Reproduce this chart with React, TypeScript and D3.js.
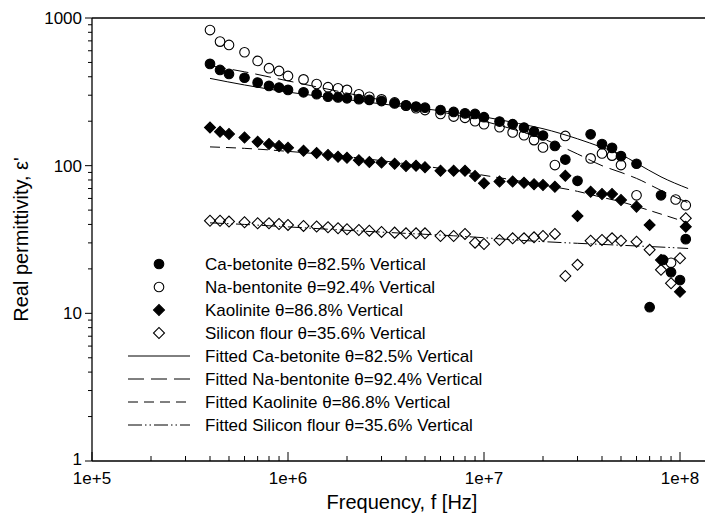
import React, { useEffect, useRef } from 'react';
import * as d3 from 'd3';

const caFreq = [4e5, 4.5e5, 5e5, 6e5, 7e5, 8e5, 9e5, 1e6, 1.2e6, 1.4e6, 1.6e6, 1.8e6, 2e6, 2.3e6, 2.6e6, 3e6, 3.5e6, 4e6, 4.5e6, 5e6, 6e6, 7e6, 8e6, 9e6, 1e7, 1.2e7, 1.4e7, 1.6e7, 1.8e7, 2e7, 2.3e7, 2.6e7, 3e7, 3.5e7, 4e7, 4.5e7, 5e7, 6e7, 7e7, 8e7, 8.2e7, 9e7, 1e8, 1.07e8];
const caVal = [489, 445, 418, 394, 365, 347, 338, 326, 314, 305, 293, 290, 286, 282, 279, 274, 264, 256, 251, 247, 238, 231, 226, 224, 213, 199, 191, 181, 170, 160, 136, 110, 79, 163, 140, 132, 116, 103, 11, 63, 23, 19, 16.8, 31.8];

const naFreq = [4e5, 4.5e5, 5e5, 6e5, 7e5, 8e5, 9e5, 1e6, 1.2e6, 1.4e6, 1.6e6, 1.8e6, 2e6, 2.3e6, 2.6e6, 3e6, 3.5e6, 4e6, 4.5e6, 5e6, 6e6, 7e6, 8e6, 9e6, 1e7, 1.2e7, 1.4e7, 1.6e7, 1.8e7, 2e7, 2.3e7, 2.6e7, 3.5e7, 4e7, 4.5e7, 5e7, 6e7, 9e7, 9.5e7, 1.07e8];
const naVal = [829, 692, 657, 586, 512, 457, 438, 405, 384, 357, 340, 334, 326, 304, 293, 281, 268, 255, 245, 238, 224, 215, 211, 200, 191, 182, 168, 161, 149, 133, 101, 159, 112, 121, 117, 101, 63, 22, 59, 54];

const kaoFreq = [4e5, 4.5e5, 5e5, 6e5, 7e5, 8e5, 9e5, 1e6, 1.2e6, 1.4e6, 1.6e6, 1.8e6, 2e6, 2.3e6, 2.6e6, 3e6, 3.5e6, 4e6, 4.5e6, 5e6, 6e6, 7e6, 8e6, 9e6, 1e7, 1.2e7, 1.4e7, 1.6e7, 1.8e7, 2e7, 2.3e7, 2.6e7, 3e7, 3.5e7, 4e7, 4.5e7, 5e7, 6e7, 7e7, 8e7, 1e8, 1.07e8];
const kaoVal = [181, 170, 164, 155, 145, 140, 136, 132, 126, 122, 118, 115, 113, 109, 106, 105, 103, 99.5, 100, 97.5, 92.5, 92.5, 92.5, 85, 76, 78, 78, 76.7, 74.8, 74, 72, 85.5, 45.6, 66.7, 64.3, 64.3, 58.6, 52.8, 39.7, 23, 14, 38.6];

const siFreq = [4e5, 4.5e5, 5e5, 6e5, 7e5, 8e5, 9e5, 1e6, 1.2e6, 1.4e6, 1.6e6, 1.8e6, 2e6, 2.3e6, 2.6e6, 3e6, 3.5e6, 4e6, 4.5e6, 5e6, 6e6, 7e6, 8e6, 9e6, 1e7, 1.2e7, 1.4e7, 1.6e7, 1.8e7, 2e7, 2.3e7, 2.6e7, 3e7, 3.5e7, 4e7, 4.5e7, 5e7, 6e7, 7e7, 8e7, 9e7, 1e8, 1.07e8];
const siVal = [42.4, 42.4, 41.8, 41.4, 40.7, 40.7, 40.3, 39.7, 39.1, 38.7, 38.3, 37.7, 37.1, 36.7, 36.3, 35.6, 35.2, 34.8, 34.8, 34.8, 33.4, 33.4, 34.5, 30.1, 29.5, 31.4, 32.2, 32.2, 32.7, 33.4, 34.5, 17.9, 21.3, 31.0, 31.4, 32.2, 31.0, 30.5, 26.9, 19.7, 16.0, 23.6, 44];

// fitted curves, sampled from the plot
const fitFreq = [4e5, 6e5, 1e6, 2e6, 4e6, 7e6, 1e7, 1.5e7, 2e7, 3e7, 4e7, 5e7, 6e7, 8e7, 1.1e8];
const fitCa = [390, 352, 315, 280, 250, 230, 214, 193, 178, 152, 133, 119, 104, 84, 70];
const fitNa = [475, 432, 375, 310, 258, 222, 200, 172, 152, 120, 100, 90, 82, 68, 56];
const fitKao = [134, 131, 125, 115, 103, 93, 86, 79, 74, 67, 61, 57, 53, 47, 41];
const fitSi = [41, 40, 38.5, 36.5, 34.8, 33.5, 32.5, 31.3, 30.6, 29.8, 29.3, 28.9, 28.6, 28.1, 27.5];

const xTickLabels = ['1e+5', '1e+6', '1e+7', '1e+8'];
const yTickLabels = ['1', '10', '100', '1000'];

const pointLabels = [
  'Ca-betonite θ=82.5% Vertical',
  'Na-bentonite θ=92.4% Vertical',
  'Kaolinite θ=86.8% Vertical',
  'Silicon flour θ=35.6% Vertical',
];
const fitLabels = [
  'Fitted Ca-betonite θ=82.5% Vertical',
  'Fitted Na-bentonite θ=92.4% Vertical',
  'Fitted Kaolinite θ=86.8% Vertical',
  'Fitted Silicon flour θ=35.6% Vertical',
];

const FONT = '"Liberation Sans", Arial, sans-serif';

const PermittivityChart: React.FC = () => {
  const ref = useRef<SVGSVGElement>(null);

  useEffect(() => {
    if (!ref.current) return;
    const svg = d3.select(ref.current);
    svg.selectAll('*').remove();

    const left = 92, right = 705, top = 18, bottom = 461;
    const x = d3.scaleLog().domain([1e5, 1e8]).range([left, 680]);
    const y = d3.scaleLog().domain([1, 1000]).range([bottom, top]);

    const series = [
      { f: caFreq, v: caVal, shape: 'circle', filled: true },
      { f: naFreq, v: naVal, shape: 'circle', filled: false },
      { f: kaoFreq, v: kaoVal, shape: 'diamond', filled: true },
      { f: siFreq, v: siVal, shape: 'diamond', filled: false },
    ];
    const fits = [
      { v: fitCa, dash: null },
      { v: fitNa, dash: '16,7' },
      { v: fitKao, dash: '10,6' },
      { v: fitSi, dash: '14,3,1.5,3,1.5,3' },
    ];

    // axes frame
    const g = svg.append('g').attr('stroke', '#000').attr('fill', 'none');
    g.append('line').attr('x1', left).attr('x2', left).attr('y1', top).attr('y2', bottom).attr('stroke-width', 1.3);
    g.append('line').attr('x1', left).attr('x2', right).attr('y1', bottom).attr('y2', bottom).attr('stroke-width', 1.3);
    g.append('line').attr('x1', left).attr('x2', right).attr('y1', top).attr('y2', top).attr('stroke-width', 1.3);

    // y ticks (outward)
    y.ticks().forEach(t => {
      const major = Math.abs(Math.log10(t) - Math.round(Math.log10(t))) < 1e-9;
      g.append('line')
        .attr('x1', left - (major ? 7 : 4)).attr('x2', left)
        .attr('y1', y(t)).attr('y2', y(t)).attr('stroke-width', 1);
    });
    yTickLabels.forEach(lbl => {
      svg.append('text')
        .attr('x', left - 10).attr('y', y(+lbl) - (lbl === '1' ? 2 : 0)).attr('dy', '0.35em')
        .attr('text-anchor', 'end').style('font-family', FONT).style('font-size', '17px')
        .text(lbl);
    });

    // x ticks (inward)
    const xt = d3.scaleLog().domain([1e5, 1.3e8]).ticks().filter(t => x(t) <= right);
    xt.forEach(t => {
      const major = Math.abs(Math.log10(t) - Math.round(Math.log10(t))) < 1e-9;
      g.append('line')
        .attr('x1', x(t)).attr('x2', x(t))
        .attr('y1', bottom).attr('y2', bottom - (major ? 9 : 5)).attr('stroke-width', 1);
    });
    xTickLabels.forEach(lbl => {
      svg.append('text')
        .attr('x', x(+lbl)).attr('y', bottom + 23)
        .attr('text-anchor', 'middle').style('font-family', FONT).style('font-size', '17px')
        .text(lbl);
    });

    // axis titles
    svg.append('text')
      .attr('x', 402).attr('y', 509).attr('text-anchor', 'middle')
      .style('font-family', FONT).style('font-size', '20px')
      .text('Frequency, f [Hz]');
    svg.append('text')
      .attr('transform', `translate(28,${(top + bottom) / 2}) rotate(-90)`)
      .attr('text-anchor', 'middle')
      .style('font-family', FONT).style('font-size', '20px')
      .text("Real permittivity, ε'");

    // fitted lines
    const line = d3.line<[number, number]>()
      .x(d => x(d[0])).y(d => y(d[1]))
      .curve(d3.curveMonotoneX);
    fits.forEach(s => {
      svg.append('path')
        .datum(fitFreq.map((f, i) => [f, s.v[i]] as [number, number]))
        .attr('d', line)
        .attr('fill', 'none').attr('stroke', '#000').attr('stroke-width', 1)
        .attr('stroke-dasharray', s.dash);
    });

    const diamond = d3.symbol().type(d3.symbolSquare).size(60);
    const drawMarker = (sel: d3.Selection<SVGGElement, unknown, null, undefined>, cx: number, cy: number, shape: string, filled: boolean) => {
      if (shape === 'circle') {
        sel.append('circle').attr('cx', cx).attr('cy', cy).attr('r', 4.8)
          .attr('fill', filled ? '#000' : 'none').attr('stroke', '#000').attr('stroke-width', 1.1);
      } else {
        sel.append('path').attr('d', diamond()!)
          .attr('transform', `translate(${cx},${cy}) rotate(45)`)
          .attr('fill', filled ? '#000' : 'none').attr('stroke', '#000').attr('stroke-width', 1.1);
      }
    };

    // data points
    const pts = svg.append('g');
    [series[1], series[0], series[2], series[3]].forEach(s => {
      s.f.forEach((f, i) => drawMarker(pts, x(f), y(s.v[i]), s.shape, s.filled));
    });

    // legend
    const leg = svg.append('g');
    const rowY = (i: number) => 264 + i * 23;
    series.forEach((s, i) => {
      drawMarker(leg, 159, rowY(i), s.shape, s.filled);
      leg.append('text').attr('x', 205).attr('y', rowY(i)).attr('dy', '0.35em')
        .style('font-family', FONT).style('font-size', '17px').text(pointLabels[i]);
    });
    fits.forEach((s, i) => {
      const yy = rowY(i + 4);
      leg.append('line').attr('x1', 128).attr('x2', 190).attr('y1', yy).attr('y2', yy)
        .attr('stroke', '#000').attr('stroke-width', 1).attr('stroke-dasharray', s.dash);
      leg.append('text').attr('x', 205).attr('y', yy).attr('dy', '0.35em')
        .style('font-family', FONT).style('font-size', '17px').text(fitLabels[i]);
    });
  }, []);

  return <svg ref={ref} width={705} height={516} style={{ display: 'block' }} />;
};

export default function App() {
  return (
    <div style={{ position: 'absolute', left: 0, top: 0, background: '#fff' }}>
      <PermittivityChart />
    </div>
  );
}
